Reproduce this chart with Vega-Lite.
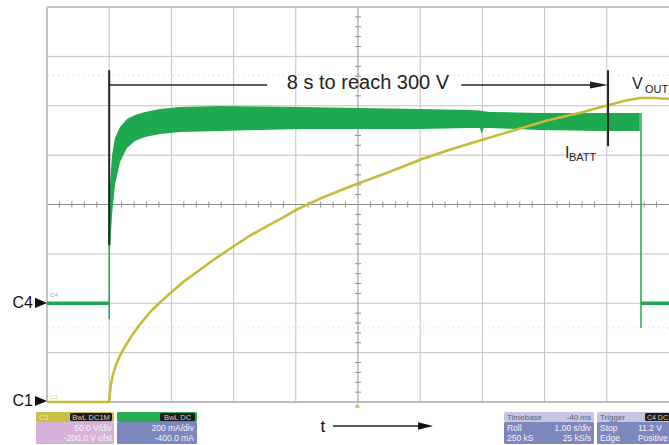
{
  "$schema": "https://vega.github.io/schema/vega-lite/v6.json",
  "width": 622,
  "height": 395,
  "autosize": "none",
  "padding": {"left": 47, "top": 7, "right": 0, "bottom": 43},
  "background": "white",
  "config": {"view": {"stroke": null}, "font": "Liberation Sans", "text": {"font": "Liberation Sans"}},
  "resolve": {"scale": {"y": "independent"}},
  "layer": [
    {
      "layer": [
        {"data": {"values": [{"t": 1}, {"t": 2}, {"t": 3}, {"t": 4}, {"t": 6}, {"t": 7}, {"t": 8}, {"t": 9}]},
          "mark": {"type": "rule", "color": "#c2c2c2", "strokeWidth": 1},
          "encoding": {"x": {"field": "t", "type": "quantitative", "scale": {"domain": [0, 10], "nice": false, "zero": false}, "axis": null}}},
        {"data": {"values": [{"V": 50}, {"V": 100}, {"V": 150}, {"V": 250}, {"V": 300}, {"V": 350}]},
          "mark": {"type": "rule", "color": "#c2c2c2", "strokeWidth": 1},
          "encoding": {"y": {"field": "V", "type": "quantitative", "scale": {"domain": [0, 400], "nice": false, "zero": false}, "axis": null}}},
        {"data": {"values": [{"V": 331}, {"V": 75}]},
          "mark": {"type": "rule", "color": "#cfcfcf", "strokeDash": [1, 4], "strokeWidth": 1},
          "encoding": {"y": {"field": "V", "type": "quantitative", "scale": {"domain": [0, 400], "nice": false, "zero": false}, "axis": null}}},
        {"data": {"values": [{"V": 200}]},
          "mark": {"type": "rule", "color": "#8f8f8f", "strokeWidth": 1},
          "encoding": {"y": {"field": "V", "type": "quantitative", "scale": {"domain": [0, 400], "nice": false, "zero": false}, "axis": null}}},
        {"data": {"values": [{"t": 5}]},
          "mark": {"type": "rule", "color": "#8f8f8f", "strokeWidth": 1},
          "encoding": {"x": {"field": "t", "type": "quantitative", "scale": {"domain": [0, 10], "nice": false, "zero": false}, "axis": null}}},
        {"data": {"values": [{"t":0.2,"V":200},{"t":0.4,"V":200},{"t":0.6,"V":200},{"t":0.8,"V":200},{"t":1.2,"V":200},{"t":1.4,"V":200},{"t":1.6,"V":200},{"t":1.8,"V":200},{"t":2.2,"V":200},{"t":2.4,"V":200},{"t":2.6,"V":200},{"t":2.8,"V":200},{"t":3.2,"V":200},{"t":3.4,"V":200},{"t":3.6,"V":200},{"t":3.8,"V":200},{"t":4.2,"V":200},{"t":4.4,"V":200},{"t":4.6,"V":200},{"t":4.8,"V":200},{"t":5.2,"V":200},{"t":5.4,"V":200},{"t":5.6,"V":200},{"t":5.8,"V":200},{"t":6.2,"V":200},{"t":6.4,"V":200},{"t":6.6,"V":200},{"t":6.8,"V":200},{"t":7.2,"V":200},{"t":7.4,"V":200},{"t":7.6,"V":200},{"t":7.8,"V":200},{"t":8.2,"V":200},{"t":8.4,"V":200},{"t":8.6,"V":200},{"t":8.8,"V":200},{"t":9.2,"V":200},{"t":9.4,"V":200},{"t":9.6,"V":200},{"t":9.8,"V":200}]},
          "mark": {"type": "rule", "color": "#8f8f8f", "strokeWidth": 1, "yOffset": -3, "y2Offset": 3},
          "encoding": {
            "x": {"field": "t", "type": "quantitative", "scale": {"domain": [0, 10], "nice": false, "zero": false}, "axis": null},
            "y": {"field": "V", "type": "quantitative", "scale": {"domain": [0, 400], "nice": false, "zero": false}, "axis": null},
            "y2": {"field": "V"}}},
        {"data": {"values": [{"t":5,"V":10},{"t":5,"V":20},{"t":5,"V":30},{"t":5,"V":40},{"t":5,"V":60},{"t":5,"V":70},{"t":5,"V":80},{"t":5,"V":90},{"t":5,"V":110},{"t":5,"V":120},{"t":5,"V":130},{"t":5,"V":140},{"t":5,"V":160},{"t":5,"V":170},{"t":5,"V":180},{"t":5,"V":190},{"t":5,"V":210},{"t":5,"V":220},{"t":5,"V":230},{"t":5,"V":240},{"t":5,"V":260},{"t":5,"V":270},{"t":5,"V":280},{"t":5,"V":290},{"t":5,"V":310},{"t":5,"V":320},{"t":5,"V":330},{"t":5,"V":340},{"t":5,"V":360},{"t":5,"V":370},{"t":5,"V":380},{"t":5,"V":390}]},
          "mark": {"type": "rule", "color": "#8f8f8f", "strokeWidth": 1, "xOffset": -3, "x2Offset": 3},
          "encoding": {
            "x": {"field": "t", "type": "quantitative", "scale": {"domain": [0, 10], "nice": false, "zero": false}, "axis": null},
            "x2": {"field": "t"},
            "y": {"field": "V", "type": "quantitative", "scale": {"domain": [0, 400], "nice": false, "zero": false}, "axis": null}}},
        {"data": {"values": [{"V": 400}]},
          "mark": {"type": "rule", "color": "#c4c4c4", "strokeWidth": 2},
          "encoding": {"y": {"field": "V", "type": "quantitative", "scale": {"domain": [0, 400], "nice": false, "zero": false}, "axis": null}}},
        {"data": {"values": [{"V": 0}]},
          "mark": {"type": "rule", "color": "#a6a6a6", "strokeWidth": 1.5},
          "encoding": {"y": {"field": "V", "type": "quantitative", "scale": {"domain": [0, 400], "nice": false, "zero": false}, "axis": null}}},
        {"data": {"values": [{"t": 0}]},
          "mark": {"type": "rule", "color": "#c4c4c4", "strokeWidth": 2},
          "encoding": {"x": {"field": "t", "type": "quantitative", "scale": {"domain": [0, 10], "nice": false, "zero": false}, "axis": null}}}
      ]
    },
    {
      "encoding": {
        "x": {"field": "t", "type": "quantitative", "scale": {"domain": [0, 10], "nice": false, "zero": false}, "axis": null},
        "y": {"field": "mA", "type": "quantitative", "scale": {"domain": [-400, 1200], "nice": false, "zero": false}, "axis": null}
      },
      "layer": [
        {"data": {"values": [
          {"t": 0.997, "mA": 236, "mA2": 256}, {"t": 1.013, "mA": 216, "mA2": 479}, {"t": 1.045, "mA": 357, "mA2": 600},
          {"t": 1.093, "mA": 479, "mA2": 669}, {"t": 1.174, "mA": 572, "mA2": 714}, {"t": 1.286, "mA": 629, "mA2": 746},
          {"t": 1.415, "mA": 657, "mA2": 763}, {"t": 1.576, "mA": 673, "mA2": 775}, {"t": 1.817, "mA": 686, "mA2": 787},
          {"t": 2.138, "mA": 694, "mA2": 795}, {"t": 2.78, "mA": 698, "mA2": 799}, {"t": 3.4, "mA": 702, "mA2": 797},
          {"t": 4.07, "mA": 706, "mA2": 795}, {"t": 5.03, "mA": 706, "mA2": 791}, {"t": 6.0, "mA": 706, "mA2": 787},
          {"t": 6.8, "mA": 710, "mA2": 783}, {"t": 6.96, "mA": 710, "mA2": 781}, {"t": 6.99, "mA": 688, "mA2": 779},
          {"t": 7.02, "mA": 710, "mA2": 778}, {"t": 7.12, "mA": 710, "mA2": 775}, {"t": 7.93, "mA": 702, "mA2": 771},
          {"t": 8.89, "mA": 698, "mA2": 771}, {"t": 9.53, "mA": 698, "mA2": 771}]},
          "mark": {"type": "area", "color": "#1fa94f", "opacity": 1},
          "encoding": {"y2": {"field": "mA2"}}},
        {"data": {"values": [
          {"t": 0, "mA": 0, "seg": "before"}, {"t": 1.0, "mA": 0, "seg": "before"},
          {"t": 9.55, "mA": 0, "seg": "after"}, {"t": 10, "mA": 0, "seg": "after"}]},
          "mark": {"type": "line", "color": "#1fa94f", "strokeWidth": 3.5},
          "encoding": {"detail": {"field": "seg"}}},
        {"data": {"values": [{"t": 1.0, "mA": -65, "mA2": 480}, {"t": 9.55, "mA": -100, "mA2": 771}]},
          "mark": {"type": "rule", "color": "#1fa94f", "strokeWidth": 1.5},
          "encoding": {"y2": {"field": "mA2"}}}
      ]
    },
    {
      "encoding": {
        "x": {"field": "t", "type": "quantitative", "scale": {"domain": [0, 10], "nice": false, "zero": false}, "axis": null},
        "y": {"field": "V", "type": "quantitative", "scale": {"domain": [0, 400], "nice": false, "zero": false}, "axis": null}
      },
      "layer": [
        {"data": {"values": [
          {"t": 0, "V": 0}, {"t": 1.0, "V": 0}, {"t": 1.02, "V": 15}, {"t": 1.05, "V": 25}, {"t": 1.1, "V": 36},
          {"t": 1.174, "V": 47}, {"t": 1.27, "V": 58}, {"t": 1.383, "V": 69}, {"t": 1.5, "V": 79}, {"t": 1.656, "V": 91},
          {"t": 1.82, "V": 101}, {"t": 1.994, "V": 111}, {"t": 2.2, "V": 122}, {"t": 2.46, "V": 134}, {"t": 2.7, "V": 145},
          {"t": 3.006, "V": 158}, {"t": 3.25, "V": 168}, {"t": 3.537, "V": 178}, {"t": 3.8, "V": 187}, {"t": 4.019, "V": 195},
          {"t": 4.389, "V": 206}, {"t": 4.7, "V": 214}, {"t": 5.032, "V": 222}, {"t": 5.5, "V": 233}, {"t": 6.029, "V": 246},
          {"t": 6.5, "V": 256}, {"t": 7.026, "V": 266}, {"t": 7.605, "V": 277}, {"t": 8.039, "V": 285}, {"t": 8.57, "V": 293},
          {"t": 9.019, "V": 300.5}, {"t": 9.29, "V": 305}, {"t": 9.534, "V": 307.8}, {"t": 9.775, "V": 307.8}, {"t": 10, "V": 306.8}]},
          "mark": {"type": "line", "color": "#c4bb3a", "strokeWidth": 2.6}},
        {"data": {"values": [{"t": 1.0, "V": 336, "V2": 159}, {"t": 9.02, "V": 336, "V2": 259}]},
          "mark": {"type": "rule", "color": "#222222", "strokeWidth": 2},
          "encoding": {"y2": {"field": "V2"}}},
        {"data": {"values": [{"t": 1.0, "t2": 3.54, "V": 321}, {"t": 6.66, "t2": 8.9, "V": 321}, {"t": 4.598, "t2": 6.0, "V": -24.3}]},
          "mark": {"type": "rule", "color": "#222222", "strokeWidth": 1.5},
          "encoding": {"x2": {"field": "t2"}}},
        {"data": {"values": [{"t": 8.875, "V": 321}]},
          "mark": {"type": "point", "shape": "M -1 -0.4 L 1 0 L -1 0.4 Z", "filled": true, "size": 324, "color": "#222222", "opacity": 1}},
        {"data": {"values": [{"t": 6.085, "V": -24.3}]},
          "mark": {"type": "point", "shape": "M -1 -0.5 L 1 0 L -1 0.5 Z", "filled": true, "size": 225, "color": "#111111", "opacity": 1}},
        {"data": {"values": [{"t": -0.096, "V": 100.3}, {"t": -0.096, "V": 1.0}]},
          "mark": {"type": "point", "shape": "M -1 -0.85 L 1 0 L -1 0.85 Z", "filled": true, "size": 144, "color": "#111111", "opacity": 1}},
        {"data": {"values": [{"t": -0.225, "V": 100.3, "label": "C4"}, {"t": -0.225, "V": 1.0, "label": "C1"}]},
          "mark": {"type": "text", "align": "right", "baseline": "middle", "fontSize": 16, "color": "#111111"},
          "encoding": {"text": {"field": "label"}}},
        {"data": {"values": [{"t": 0.05, "V": 106.5, "label": "C4", "part": "C4"}, {"t": 0.05, "V": 3.5, "label": "C1", "part": "C1"}]},
          "mark": {"type": "text", "align": "left", "baseline": "alphabetic", "fontSize": 6},
          "encoding": {"text": {"field": "label"}, "color": {"field": "part", "type": "nominal", "scale": {"domain": ["C4", "C1", "c1head", "c1body", "c4head", "body", "infohead", "label"], "range": ["#6cc08a", "#d2cb70", "#c8bf45", "#d6b2d8", "#27ad54", "#7d87be", "#c3c7df", "#1b1b1b"]}, "legend": null}}},
        {"data": {"values": [{"t": 5.16, "V": 317, "label": "8 s to reach 300 V"}]},
          "mark": {"type": "text", "align": "center", "baseline": "alphabetic", "fontSize": 20, "color": "#222222"},
          "encoding": {"text": {"field": "label"}}},
        {"data": {"values": [{"t": 9.405, "V": 317, "label": "V"}, {"t": 8.328, "V": 247, "label": "I"}]},
          "mark": {"type": "text", "align": "left", "baseline": "alphabetic", "fontSize": 16, "color": "#222222"},
          "encoding": {"text": {"field": "label"}}},
        {"data": {"values": [{"t": 9.614, "V": 313, "label": "OUT"}, {"t": 8.392, "V": 244, "label": "BATT"}]},
          "mark": {"type": "text", "align": "left", "baseline": "alphabetic", "fontSize": 11, "color": "#222222"},
          "encoding": {"text": {"field": "label"}}},
        {"data": {"values": [{"t": 4.437, "V": -30.4, "label": "t"}]},
          "mark": {"type": "text", "align": "center", "baseline": "alphabetic", "fontSize": 17, "color": "#111111"},
          "encoding": {"text": {"field": "label"}}},
        {"data": {"values": [{"t": 4.99, "V": -3.5}]},
          "mark": {"type": "point", "shape": "triangle-up", "filled": true, "size": 30, "color": "#cbc45a", "opacity": 1}},
        {"data": {"values": [
          {"part": "c1head", "t": -0.177, "t2": 1.077, "V": -10.1, "V2": -20.25},
          {"part": "c1body", "t": -0.177, "t2": 1.077, "V": -20.25, "V2": -42.5},
          {"part": "label", "t": 0.37, "t2": 1.045, "V": -11.2, "V2": -19.2},
          {"part": "c4head", "t": 1.125, "t2": 2.412, "V": -10.1, "V2": -20.25},
          {"part": "body", "t": 1.125, "t2": 2.412, "V": -20.25, "V2": -42.5},
          {"part": "label", "t": 1.817, "t2": 2.379, "V": -11.2, "V2": -19.2},
          {"part": "infohead", "t": 7.347, "t2": 8.794, "V": -10.1, "V2": -20.25},
          {"part": "body", "t": 7.347, "t2": 8.794, "V": -20.25, "V2": -42.5},
          {"part": "infohead", "t": 8.842, "t2": 10.4, "V": -10.1, "V2": -20.25},
          {"part": "body", "t": 8.842, "t2": 10.4, "V": -20.25, "V2": -42.5},
          {"part": "label", "t": 9.614, "t2": 10.4, "V": -11.2, "V2": -19.2}]},
          "mark": {"type": "rect", "cornerRadius": 1.5},
          "encoding": {"x2": {"field": "t2"}, "y2": {"field": "V2"},
            "color": {"field": "part", "type": "nominal", "scale": {"domain": ["C4", "C1", "c1head", "c1body", "c4head", "body", "infohead", "label"], "range": ["#6cc08a", "#d2cb70", "#c8bf45", "#d6b2d8", "#27ad54", "#7d87be", "#c3c7df", "#1b1b1b"]}, "legend": null}}},
        {"data": {"values": [{"t": -0.13, "V": -18.2, "label": "C1"}]},
          "mark": {"type": "text", "align": "left", "baseline": "alphabetic", "fontSize": 8, "color": "#f3efa6"},
          "encoding": {"text": {"field": "label"}}},
        {"data": {"values": [{"t": 0.707, "V": -18.0, "label": "BwL DC1M"}, {"t": 2.098, "V": -18.0, "label": "BwL DC"}]},
          "mark": {"type": "text", "align": "center", "baseline": "alphabetic", "fontSize": 7.5, "color": "#cfcfcf"},
          "encoding": {"text": {"field": "label"}}},
        {"data": {"values": [{"t": 9.646, "V": -18.0, "label": "C4 DC"}]},
          "mark": {"type": "text", "align": "left", "baseline": "alphabetic", "fontSize": 7, "color": "#cfcfcf"},
          "encoding": {"text": {"field": "label"}}},
        {"data": {"values": [{"t": 7.395, "V": -18.2, "label": "Timebase"}, {"t": 8.891, "V": -18.2, "label": "Trigger"}]},
          "mark": {"type": "text", "align": "left", "baseline": "alphabetic", "fontSize": 8, "color": "#5d6078"},
          "encoding": {"text": {"field": "label"}}},
        {"data": {"values": [{"t": 8.746, "V": -18.2, "label": "-40 ms"}]},
          "mark": {"type": "text", "align": "right", "baseline": "alphabetic", "fontSize": 8, "color": "#5d6078"},
          "encoding": {"text": {"field": "label"}}},
        {"data": {"values": [
          {"t": 1.045, "V": -29.4, "label": "50.0 V/div"}, {"t": 1.045, "V": -39.5, "label": "-200.0 V ofst"},
          {"t": 2.363, "V": -29.4, "label": "200 mA/div"}, {"t": 2.363, "V": -39.5, "label": "-400.0 mA"},
          {"t": 8.746, "V": -29.4, "label": "1.00 s/div"}, {"t": 8.746, "V": -39.5, "label": "25 kS/s"}]},
          "mark": {"type": "text", "align": "right", "baseline": "alphabetic", "fontSize": 8.5, "color": "#f4f2fa"},
          "encoding": {"text": {"field": "label"}}},
        {"data": {"values": [
          {"t": 7.395, "V": -29.4, "label": "Roll"}, {"t": 7.395, "V": -39.5, "label": "250 kS"},
          {"t": 8.891, "V": -29.4, "label": "Stop"}, {"t": 8.891, "V": -39.5, "label": "Edge"},
          {"t": 9.5, "V": -29.4, "label": "11.2 V"}, {"t": 9.5, "V": -39.5, "label": "Positive"}]},
          "mark": {"type": "text", "align": "left", "baseline": "alphabetic", "fontSize": 8.5, "color": "#f4f2fa"},
          "encoding": {"text": {"field": "label"}}}
      ]
    }
  ]
}
